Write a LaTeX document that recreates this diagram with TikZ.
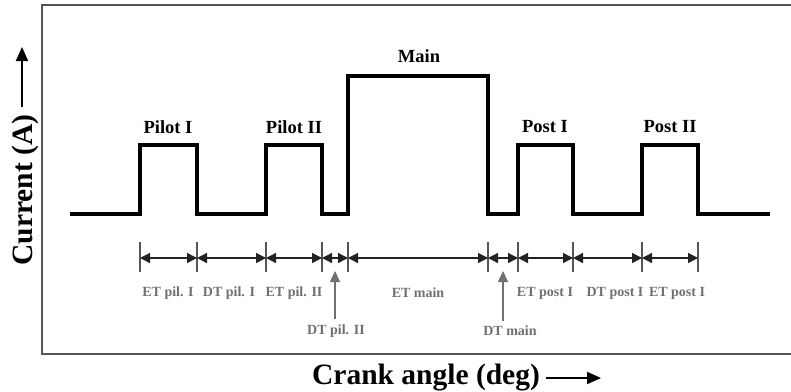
\documentclass[tikz,border=0pt]{standalone}
\usepackage{fontspec}
\setmainfont{Liberation Serif}
\usetikzlibrary{arrows.meta}
\definecolor{framegray}{HTML}{555555}
\definecolor{labelgray}{HTML}{707070}
\definecolor{dimgray}{HTML}{222222}
\tikzset{
  frameline/.style={draw=framegray, line width=2pt},
  pulse/.style={draw=black, line width=3.2pt, line join=miter},
  title/.style={font=\bfseries\fontsize{18.5}{20}\selectfont, inner sep=0pt},
  axislabel/.style={font=\bfseries\fontsize{29.5}{32}\selectfont, inner sep=0pt},
  dimlabel/.style={font=\bfseries\fontsize{14}{16}\selectfont, text=labelgray, inner sep=0pt},
  tick/.style={draw=framegray, line width=1.6pt},
  dimline/.style={draw=dimgray, line width=1.4pt,
    {Triangle[length=10pt,width=10pt]}-{Triangle[length=10pt,width=10pt]}},
  pointer/.style={draw=labelgray, line width=1.4pt, -{Triangle[length=11pt,width=10pt]}},
  axisarrow/.style={draw=black, line width=1.8pt, -{Triangle[length=14pt,width=12pt]}},
}
\begin{document}
\begin{tikzpicture}[x=1pt,y=-1pt]
\useasboundingbox (0,0) rectangle (791,391);

% open frame
\draw[frameline] (791,5) -- (42,5) -- (42,354) -- (791,354);

% injection current pulses
\draw[pulse] (70,214) -- (140,214) -- (140,145) -- (197,145) -- (197,214)
  -- (266,214) -- (266,145) -- (322,145) -- (322,214)
  -- (348,214) -- (348,76) -- (488,76) -- (488,214)
  -- (518,214) -- (518,145) -- (573,145) -- (573,214)
  -- (642,214) -- (642,145) -- (698,145) -- (698,214) -- (770,214);

% pulse titles
\node[title] (pil1) at (168,127) {Pilot I};
\node[title] (pil2) at (294,127) {Pilot II};
\node[title] (main) at (419,56) {Main};
\node[title] (post1) at (545,127) {Post I};
\node[title] (post2) at (670,127) {Post II};

% dimension ticks
\foreach \n/\x in {1/140,2/197,3/266,4/322,5/348,6/488,7/518,8/573,9/642,10/698}{
  \coordinate (t\n) at (\x,258);
  \draw[tick] (\x,242) -- (\x,272);
}

% dimension arrows
\foreach \a/\b in {1/2,2/3,3/4,4/5,5/6,6/7,7/8,8/9,9/10}{
  \draw[dimline] (t\a) -- (t\b);
}

% interval labels
\node[dimlabel] (etp1) at (168,293) {ET pil. I};
\node[dimlabel] (dtp1) at (229,293) {DT pil. I};
\node[dimlabel] (etp2) at (294,293) {ET pil. II};
\node[dimlabel] (etm) at (418,293) {ET main};
\node[dimlabel] (etq1) at (545,293) {ET post I};
\node[dimlabel] (dtq1) at (615,293) {DT post I};
\node[dimlabel] (etq2) at (677,293) {ET post I};
\node[dimlabel] (dtp2) at (336,331) {DT pil. II};
\node[dimlabel] (dtm) at (510,331) {DT main};

\coordinate (dtp2tip) at (335,271);
\coordinate (dtmtip) at (503,271);
\draw[pointer] (dtp2.north -| dtp2tip) ++(0,-5) -- (dtp2tip);
\draw[pointer] (dtm.north -| dtmtip) ++(0,-5) -- (dtmtip);

% axis labels
\node[axislabel, anchor=base] (xlab) at (426,384) {Crank angle (deg)};
\coordinate (xend) at (601,378);
\draw[axisarrow] (xlab.east |- xend) ++(6,0) -- (xend);

\node[axislabel, rotate=90, anchor=base] (ylab) at (32,190) {Current (A)};
\coordinate (yend) at (22,47);
\draw[axisarrow] (ylab.east -| yend) ++(0,-7) -- (yend);
\end{tikzpicture}
\end{document}
